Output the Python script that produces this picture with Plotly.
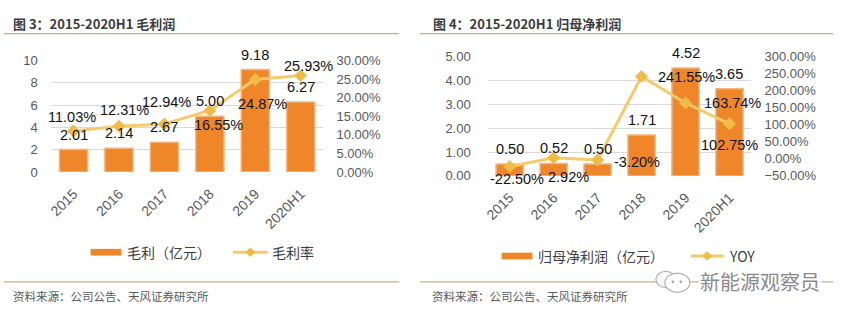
import plotly.graph_objects as go

W, H = 850, 327

# ---- data ----
categories = ["2015", "2016", "2017", "2018", "2019", "2020H1"]
gross_profit = [2.01, 2.14, 2.67, 5.00, 9.18, 6.27]          # 毛利（亿元）
gross_margin = [11.03, 12.31, 12.94, 16.55, 24.87, 25.93]    # 毛利率 (%)
net_profit = [0.50, 0.52, 0.50, 1.71, 4.52, 3.65]            # 归母净利润（亿元）
net_yoy = [-22.50, 2.92, -3.20, 241.55, 163.74, 102.75]      # YOY (%)

# label offsets (pixels) for the line-value labels
margin_lbl_dx = [-2, 6, 2, 9, 7, 8]
margin_lbl_dy = [14, 16, 22, -15, -24, 10]
yoy_lbl_anchor = ["center", "center", "left", "left", "left", "center"]
yoy_lbl_dx = [7, 15, 14, 14, 16, 0]
yoy_lbl_dy = [-12, -19, -2, 0, 0, -21]

BAR = "#EF8629"
BAR_EDGE = "#F6B57A"
LINE = "#F4CB6B"
DOT = "#EFBD45"
GRID = "#D9D9D9"
TICK = "#595959"
RULE = "#CDAE82"
NUM_FONT = "Liberation Sans, Arial, Noto Sans CJK SC"
CJK_FONT = "Noto Sans CJK SC, Liberation Sans"


def px(x):
    return x / W


def py(y):
    return 1 - y / H


fig = go.Figure()

# left chart: 毛利 bars + 毛利率 line
fig.add_trace(go.Bar(x=categories, y=gross_profit, xaxis="x", yaxis="y",
                     marker=dict(color=BAR, line=dict(color=BAR_EDGE, width=1.5)),
                     showlegend=False, hoverinfo="skip"))
fig.add_trace(go.Scatter(x=categories, y=gross_margin, xaxis="x", yaxis="y2",
                         mode="lines+markers",
                         line=dict(color=LINE, width=3),
                         marker=dict(symbol="diamond", size=10, color=DOT),
                         showlegend=False, hoverinfo="skip"))

# right chart: 归母净利润 bars + YOY line
fig.add_trace(go.Bar(x=categories, y=net_profit, xaxis="x2", yaxis="y3",
                     marker=dict(color=BAR, line=dict(color=BAR_EDGE, width=1.5)),
                     showlegend=False, hoverinfo="skip"))
fig.add_trace(go.Scatter(x=categories, y=net_yoy, xaxis="x2", yaxis="y4",
                         mode="lines+markers",
                         line=dict(color=LINE, width=3),
                         marker=dict(symbol="diamond", size=10, color=DOT),
                         showlegend=False, hoverinfo="skip"))

annotations = []
label_font = dict(family=NUM_FONT, size=14.5, color="#111111")

# category axes take the category index for annotation positions
for i, v in enumerate(gross_profit):
    annotations.append(dict(x=i, y=v, xref="x", yref="y", text=f"{v:.2f}",
                            showarrow=False, yshift=15, font=label_font))
for i, (v, dx, dy) in enumerate(zip(gross_margin, margin_lbl_dx, margin_lbl_dy)):
    annotations.append(dict(x=i, y=v, xref="x", yref="y2", text=f"{v:.2f}%",
                            showarrow=False, xshift=dx, yshift=dy, font=label_font))
for i, v in enumerate(net_profit):
    annotations.append(dict(x=i, y=v, xref="x2", yref="y3", text=f"{v:.2f}",
                            showarrow=False, yshift=15, font=label_font))
for i, (v, a, dx, dy) in enumerate(zip(net_yoy, yoy_lbl_anchor, yoy_lbl_dx, yoy_lbl_dy)):
    annotations.append(dict(x=i, y=v, xref="x2", yref="y4", text=f"{v:.2f}%",
                            xanchor=a, showarrow=False, xshift=dx, yshift=dy,
                            font=label_font))

# titles
annotations.append(dict(x=px(7), y=py(17), xref="paper", yref="paper",
                        xanchor="left", yanchor="middle", showarrow=False,
                        text="<b>图 3：2015-2020H1 毛利润</b>",
                        font=dict(family=CJK_FONT, size=13, color="#3c3c3c")))
annotations.append(dict(x=px(429), y=py(17), xref="paper", yref="paper",
                        xanchor="left", yanchor="middle", showarrow=False,
                        text="<b>图 4：2015-2020H1 归母净利润</b>",
                        font=dict(family=CJK_FONT, size=13, color="#3c3c3c")))

# source notes
for x0 in (7, 428):
    annotations.append(dict(x=px(x0), y=py(303), xref="paper", yref="paper",
                            xanchor="left", yanchor="middle", showarrow=False,
                            text="资料来源：公司公告、天风证券研究所",
                            font=dict(family=CJK_FONT, size=11.5, color="#595959")))

# legend texts
legend_font = dict(family=CJK_FONT, size=14, color="#404040")
annotations += [
    dict(x=px(122), y=py(257), text="毛利（亿元）"),
    dict(x=px(267), y=py(257), text="毛利率"),
    dict(x=px(535), y=py(261), text="归母净利润（亿元）"),
    dict(x=px(726), y=py(261), text="YOY"),
]
for a in annotations[-4:]:
    a.update(xref="paper", yref="paper", xanchor="left", yanchor="middle",
             showarrow=False, font=legend_font)

# watermark
annotations.append(dict(x=px(760), y=py(288), xref="paper", yref="paper",
                        xanchor="center", yanchor="middle", showarrow=False,
                        text="新能源观察员", bgcolor="rgba(255,255,255,0.85)",
                        font=dict(family=CJK_FONT, size=20, color="#8a8a8a")))

shapes = []
# rules under titles and above source notes
for (x0, x1) in ((0, 397), (418, 833)):
    for yy in (28, 288):
        shapes.append(dict(type="line", xref="paper", yref="paper",
                           x0=px(x0), x1=px(x1), y0=py(yy), y1=py(yy),
                           line=dict(color=RULE, width=1.2), layer="below"))


def bar_swatch(x0, x1, yc):
    return dict(type="rect", xref="paper", yref="paper",
                x0=px(x0), x1=px(x1), y0=py(yc + 3.5), y1=py(yc - 3.5),
                fillcolor=BAR, line=dict(width=0))


def line_swatch(x0, x1, yc):
    xc = (x0 + x1) / 2
    d = 5
    return [
        dict(type="line", xref="paper", yref="paper", x0=px(x0), x1=px(x1),
             y0=py(yc), y1=py(yc), line=dict(color=LINE, width=3)),
        dict(type="path", xref="paper", yref="paper",
             path=f"M {px(xc - d)},{py(yc)} L {px(xc)},{py(yc - d)} "
                  f"L {px(xc + d)},{py(yc)} L {px(xc)},{py(yc + d)} Z",
             fillcolor=DOT, line=dict(width=0)),
    ]


shapes.append(bar_swatch(87, 118, 257))
shapes += line_swatch(230, 265, 257)
shapes.append(bar_swatch(500, 531, 261))
shapes += line_swatch(690, 723, 261)

# watermark icon: two speech bubbles
shapes.append(dict(type="circle", xref="paper", yref="paper",
                   x0=px(655), x1=px(675), y0=py(294), y1=py(277),
                   fillcolor="white", line=dict(color="#b0b0b0", width=1.2)))
shapes.append(dict(type="circle", xref="paper", yref="paper",
                   x0=px(664), x1=px(689), y0=py(299), y1=py(279),
                   fillcolor="white", line=dict(color="#b0b0b0", width=1.2)))
for cx in (672, 680):
    shapes.append(dict(type="circle", xref="paper", yref="paper",
                       x0=px(cx - 1.3), x1=px(cx + 1.3), y0=py(288 + 1.3), y1=py(288 - 1.3),
                       fillcolor="#a0a0a0", line=dict(width=0)))

tick_font = dict(family=NUM_FONT, size=13, color=TICK)
xtick_font = dict(family=NUM_FONT, size=14, color=TICK)
cat_range = [-0.5, len(categories) - 0.5]

fig.update_layout(
    width=W, height=H,
    margin=dict(l=0, r=0, t=0, b=0),
    paper_bgcolor="white", plot_bgcolor="white",
    bargap=0.38,
    showlegend=False,
    xaxis=dict(domain=[px(47), px(321)], anchor="y", type="category",
               range=cat_range, tickangle=-45, tickfont=xtick_font, showgrid=False,
               showline=False, ticks="", ticklabelstandoff=10),
    yaxis=dict(domain=[py(173), py(56)], range=[0, 10], dtick=2,
               tickfont=tick_font, gridcolor=GRID, gridwidth=1,
               zeroline=False, showline=False, ticks="", ticklabelstandoff=12),
    yaxis2=dict(overlaying="y", side="right", anchor="x", range=[0, 30], dtick=5,
                tickformat=".2f", ticksuffix="%", tickfont=tick_font,
                showgrid=False, zeroline=False, showline=False, ticks="",
                ticklabelstandoff=12),
    xaxis2=dict(domain=[px(486), px(751)], anchor="y3", type="category",
                range=cat_range, tickangle=-45, tickfont=xtick_font, showgrid=False,
                showline=False, ticks="", ticklabelstandoff=10),
    yaxis3=dict(domain=[py(177), py(52)], anchor="x2", range=[0, 5], dtick=1,
                tickformat=".2f", tickfont=tick_font, gridcolor=GRID, gridwidth=1,
                zeroline=False, showline=False, ticks="", ticklabelstandoff=16),
    yaxis4=dict(overlaying="y3", side="right", anchor="x2", range=[-50, 300],
                dtick=50, tickformat=".2f", ticksuffix="%", tickfont=tick_font,
                showgrid=False, zeroline=False, showline=False, ticks="",
                ticklabelstandoff=12),
    annotations=annotations,
    shapes=shapes,
)

fig.write_html("out.html")
